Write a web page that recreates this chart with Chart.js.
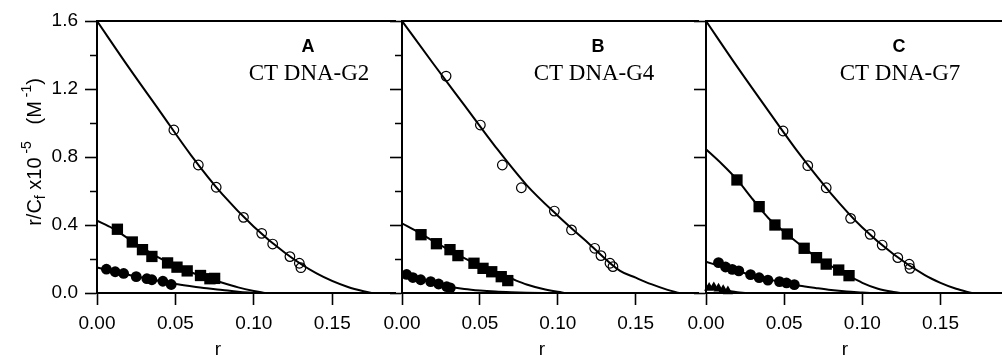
<!DOCTYPE html>
<html>
<head>
<meta charset="utf-8">
<script src="https://cdn.jsdelivr.net/npm/chart.js@4/dist/chart.umd.min.js"></script>
<style>
  html, body { margin:0; padding:0; background:#fff; overflow:hidden; }
  #wrap { position:relative; width:1002px; height:356px; overflow:hidden; background:#fff; }
  canvas { position:absolute; top:0; }
</style>
</head>
<body>
<div id="wrap">
  <canvas id="cA" width="403" height="356" style="left:0px;width:403px;height:356px"></canvas>
  <canvas id="cB" width="344" height="356" style="left:362px;width:344px;height:356px"></canvas>
  <canvas id="cC" width="345" height="356" style="left:666px;width:345px;height:356px"></canvas>
</div>
<script>
// ---------------- DATA ----------------
const panelLetters = ['A', 'B', 'C'];
const panelNames = ['CT DNA-G2', 'CT DNA-G4', 'CT DNA-G7'];
const xTickValues = [0, 0.05, 0.10, 0.15];
const yTickValues = [0, 0.2, 0.4, 0.6, 0.8, 1.0, 1.2, 1.4, 1.6];
const yTickLabelled = [0, 0.4, 0.8, 1.2, 1.6];

// Panel A  (CT DNA-G2)
const A_openR = [0.049, 0.0646, 0.076, 0.0934, 0.105, 0.112, 0.123, 0.129, 0.130];
const A_openV = [0.959, 0.753, 0.622, 0.445, 0.351, 0.288, 0.214, 0.175, 0.149];
const A_sqR   = [0.013, 0.0225, 0.029, 0.035, 0.045, 0.051, 0.0575, 0.066, 0.072, 0.075];
const A_sqV   = [0.375, 0.300, 0.255, 0.215, 0.177, 0.152, 0.130, 0.103, 0.084, 0.086];
const A_dotR  = [0.006, 0.0116, 0.017, 0.025, 0.0318, 0.035, 0.042, 0.0473];
const A_dotV  = [0.140, 0.125, 0.115, 0.096, 0.084, 0.078, 0.069, 0.050];
const A_fitOpenR = [0, 0.02, 0.04, 0.06, 0.08, 0.10, 0.12, 0.14, 0.16, 0.175];
const A_fitOpenV = [1.6, 1.33, 1.07, 0.81, 0.58, 0.39, 0.235, 0.115, 0.035, 0];
const A_fitSqR = [0, 0.01, 0.02, 0.03, 0.04, 0.05, 0.06, 0.07, 0.08, 0.09, 0.10, 0.107];
const A_fitSqV = [0.425, 0.38, 0.32, 0.26, 0.205, 0.16, 0.122, 0.09, 0.06, 0.033, 0.012, 0];
const A_fitDotR = [0, 0.01, 0.02, 0.03, 0.04, 0.05, 0.06, 0.07, 0.08, 0.09, 0.10];
const A_fitDotV = [0.15, 0.128, 0.107, 0.088, 0.07, 0.053, 0.04, 0.028, 0.018, 0.008, 0];

// Panel B  (CT DNA-G4)
const B_openR = [0.0283, 0.0503, 0.0644, 0.0766, 0.0978, 0.1088, 0.1237, 0.1277, 0.1335, 0.1354];
const B_openV = [1.276, 0.988, 0.753, 0.619, 0.482, 0.371, 0.263, 0.220, 0.175, 0.155];
const B_sqR   = [0.0122, 0.0221, 0.0308, 0.0359, 0.0462, 0.052, 0.0576, 0.0637, 0.0679];
const B_sqV   = [0.343, 0.290, 0.255, 0.220, 0.175, 0.145, 0.125, 0.096, 0.073];
const B_dotR  = [0.003, 0.007, 0.012, 0.0184, 0.0235, 0.0287, 0.031];
const B_dotV  = [0.109, 0.091, 0.078, 0.067, 0.053, 0.037, 0.030];
const B_fitOpenR = [0, 0.02, 0.04, 0.06, 0.08, 0.10, 0.12, 0.14, 0.15, 0.16, 0.17, 0.178];
const B_fitOpenV = [1.6, 1.35, 1.105, 0.86, 0.635, 0.455, 0.29, 0.13, 0.09, 0.052, 0.02, 0];
const B_fitSqR = [0, 0.01, 0.02, 0.03, 0.04, 0.05, 0.06, 0.07, 0.08, 0.09, 0.10, 0.105];
const B_fitSqV = [0.41, 0.36, 0.305, 0.255, 0.205, 0.16, 0.12, 0.085, 0.05, 0.025, 0.007, 0];
const B_fitDotR = [0, 0.01, 0.02, 0.03, 0.04, 0.05, 0.06, 0.07, 0.08, 0.095];
const B_fitDotV = [0.115, 0.085, 0.06, 0.038, 0.024, 0.015, 0.009, 0.005, 0.002, 0];

// Panel C  (CT DNA-G7)
const C_openR = [0.0493, 0.0651, 0.0769, 0.0925, 0.105, 0.1127, 0.1227, 0.130, 0.1305];
const C_openV = [0.953, 0.749, 0.619, 0.439, 0.345, 0.282, 0.208, 0.169, 0.145];
const C_sqR   = [0.0198, 0.034, 0.0441, 0.052, 0.0628, 0.0707, 0.0769, 0.0849, 0.0915];
const C_sqV   = [0.665, 0.508, 0.400, 0.347, 0.263, 0.208, 0.170, 0.135, 0.102];
const C_dotR  = [0.008, 0.0125, 0.0168, 0.021, 0.0285, 0.034, 0.0396, 0.047, 0.0515, 0.0565];
const C_dotV  = [0.179, 0.153, 0.139, 0.130, 0.108, 0.090, 0.076, 0.067, 0.059, 0.049];
const C_triR  = [0.002, 0.005, 0.008, 0.011, 0.014];
const C_triV  = [0.030, 0.034, 0.026, 0.018, 0.010];
const C_fitOpenR = [0, 0.02, 0.04, 0.06, 0.08, 0.10, 0.12, 0.14, 0.15, 0.16, 0.17];
const C_fitOpenV = [1.6, 1.33, 1.07, 0.815, 0.585, 0.385, 0.228, 0.105, 0.06, 0.025, 0];
const C_fitSqR = [0, 0.01, 0.02, 0.03, 0.04, 0.05, 0.06, 0.07, 0.08, 0.09, 0.10, 0.11, 0.12, 0.125];
const C_fitSqV = [0.845, 0.76, 0.665, 0.55, 0.44, 0.36, 0.285, 0.215, 0.158, 0.108, 0.06, 0.025, 0.006, 0];
const C_fitDotR = [0, 0.01, 0.02, 0.03, 0.04, 0.05, 0.06, 0.07, 0.08, 0.09, 0.10, 0.105];
const C_fitDotV = [0.184, 0.155, 0.13, 0.103, 0.08, 0.06, 0.043, 0.03, 0.018, 0.009, 0.003, 0];
const C_fitTriR = [0, 0.01, 0.02, 0.025];
const C_fitTriV = [0.04, 0.02, 0.004, 0];

// ---------------- HELPERS ----------------
const SANS = "'Liberation Sans', Arial, Helvetica, sans-serif";
const SERIF = "'Liberation Serif', 'Times New Roman', serif";
const pts = (rs, vs) => rs.map((r, i) => ({x: r, y: vs[i]}));
const isLabelled = v => yTickLabelled.some(t => Math.abs(t - v) < 1e-6);

const markerSet = (rs, vs, kind) => {
  const base = {data: pts(rs, vs), showLine: false, clip: false, order: 0,
    pointBorderColor: '#000', pointHoverRadius: 0};
  if (kind === 'open') return Object.assign(base, {pointStyle: 'circle', pointRadius: 4.8, pointBorderWidth: 1.2, pointBackgroundColor: 'rgba(0,0,0,0)'});
  if (kind === 'square') return Object.assign(base, {pointStyle: 'rect', pointRadius: 8, pointBorderWidth: 0, pointBackgroundColor: '#000'});
  if (kind === 'dot') return Object.assign(base, {pointStyle: 'circle', pointRadius: 5.4, pointBorderWidth: 0, pointBackgroundColor: '#000'});
  return Object.assign(base, {pointStyle: 'triangle', pointRadius: 5.8, pointBorderWidth: 0, pointBackgroundColor: '#000'});
};
const fitSet = (rs, vs) => ({data: pts(rs, vs), showLine: true, pointRadius: 0, pointHoverRadius: 0,
  borderColor: '#000', borderWidth: 2, fill: false, cubicInterpolationMode: 'monotone', order: 1});

const panelText = {
  id: 'panelText',
  afterDraw(chart, args, o) {
    const {ctx, chartArea} = chart;
    ctx.save();
    ctx.fillStyle = '#000';
    ctx.textAlign = 'center';
    ctx.textBaseline = 'alphabetic';
    ctx.font = 'bold 18px ' + SANS;
    ctx.fillText(o.letter, chartArea.left + o.letterDx, 52);
    ctx.font = '23px ' + SERIF;
    ctx.fillText(o.name, chartArea.left + o.nameDx, 80);
    ctx.font = '19px ' + SANS;
    ctx.fillText('r', chartArea.left + o.rDx, 355);
    if (o.yTitle) {
      const pieces = [
        {t: 'r/C', s: 20, dy: 0},
        {t: 'f', s: 14, dy: 4},
        {t: ' x10', s: 20, dy: 0},
        {t: ' -5', s: 14, dy: -10},
        {t: '   (M', s: 20, dy: 0},
        {t: ' -1', s: 14, dy: -10},
        {t: ')', s: 20, dy: 0}
      ];
      let total = 0;
      pieces.forEach(p => { ctx.font = p.s + 'px ' + SANS; p.w = ctx.measureText(p.t).width; total += p.w; });
      const cy = (chartArea.top + chartArea.bottom) / 2 - 5;
      ctx.translate(40.5, cy);
      ctx.rotate(-Math.PI / 2);
      ctx.textAlign = 'left';
      let x = -total / 2;
      pieces.forEach(p => { ctx.font = p.s + 'px ' + SANS; ctx.fillText(p.t, x, p.dy); x += p.w; });
    }
    ctx.restore();
  }
};

function makePanel(id, idx, datasets, opts) {
  const tickFont = {family: SANS, size: 19};
  return new Chart(document.getElementById(id), {
    type: 'scatter',
    data: {datasets},
    plugins: [panelText],
    options: {
      responsive: false, animation: false, devicePixelRatio: 1,
      events: [],
      layout: {padding: {top: 21, left: 0, right: 0, bottom: 0}},
      plugins: {
        legend: {display: false}, tooltip: {enabled: false},
        panelText: {letter: panelLetters[idx], name: panelNames[idx],
          letterDx: opts.letterDx, nameDx: opts.nameDx, rDx: opts.rDx, yTitle: opts.yTitle}
      },
      scales: {
        x: {
          type: 'linear', position: 'bottom', min: 0, max: 0.19,
          afterBuildTicks: s => { s.ticks = xTickValues.map(v => ({value: v})); },
          ticks: {callback: v => Number(v).toFixed(2), font: tickFont, color: '#000', padding: 7, maxRotation: 0, autoSkip: false},
          grid: {display: true, drawOnChartArea: false, drawTicks: true, tickLength: 12, tickWidth: 1.6, tickColor: '#000'},
          border: {display: true, color: '#000', width: 2},
          title: {display: false},
          afterFit: s => { s.height = 63; }
        },
        xTop: {
          type: 'linear', position: 'top', min: 0, max: 0.19, display: true,
          ticks: {display: false}, grid: {display: false, drawTicks: false},
          border: {display: true, color: '#000', width: 2},
          afterFit: s => { s.height = 0; }
        },
        y: {
          type: 'linear', position: 'left', min: 0, max: 1.6,
          afterBuildTicks: s => { s.ticks = yTickValues.map(v => ({value: v})); },
          ticks: {display: opts.yLabels, callback: v => isLabelled(v) ? Number(v).toFixed(1) : '',
            font: tickFont, color: '#000', padding: 7, autoSkip: false},
          grid: {display: true, drawOnChartArea: false, drawTicks: true, tickLength: 12, tickWidth: 1.6,
            tickColor: c => (isLabelled(c.tick ? c.tick.value : 0) || opts.minor) ? '#000' : 'rgba(0,0,0,0)',
            tickBorderDash: c => isLabelled(c.tick ? c.tick.value : 0) ? [] : [0, 5, 7, 0]},
          border: {display: true, color: '#000', width: 2},
          title: {display: false},
          afterFit: s => { s.width = opts.yWidth; }
        }
      }
    }
  });
}

makePanel('cA', 0, [
  markerSet(A_openR, A_openV, 'open'),
  markerSet(A_sqR, A_sqV, 'square'),
  markerSet(A_dotR, A_dotV, 'dot'),
  fitSet(A_fitOpenR, A_fitOpenV),
  fitSet(A_fitSqR, A_fitSqV),
  fitSet(A_fitDotR, A_fitDotV)
], {yWidth: 97, yLabels: true, minor: true, yTitle: true, letterDx: 211, nameDx: 212, rDx: 121});

makePanel('cB', 1, [
  markerSet(B_openR, B_openV, 'open'),
  markerSet(B_sqR, B_sqV, 'square'),
  markerSet(B_dotR, B_dotV, 'dot'),
  fitSet(B_fitOpenR, B_fitOpenV),
  fitSet(B_fitSqR, B_fitSqV),
  fitSet(B_fitDotR, B_fitDotV)
], {yWidth: 40, yLabels: false, minor: true, yTitle: false, letterDx: 196, nameDx: 192, rDx: 140});

makePanel('cC', 2, [
  markerSet(C_openR, C_openV, 'open'),
  markerSet(C_sqR, C_sqV, 'square'),
  markerSet(C_dotR, C_dotV, 'dot'),
  markerSet(C_triR, C_triV, 'tri'),
  fitSet(C_fitOpenR, C_fitOpenV),
  fitSet(C_fitSqR, C_fitSqV),
  fitSet(C_fitDotR, C_fitDotV),
  fitSet(C_fitTriR, C_fitTriV)
], {yWidth: 40, yLabels: false, minor: false, yTitle: false, letterDx: 193, nameDx: 194, rDx: 139});
</script>
</body>
</html>
